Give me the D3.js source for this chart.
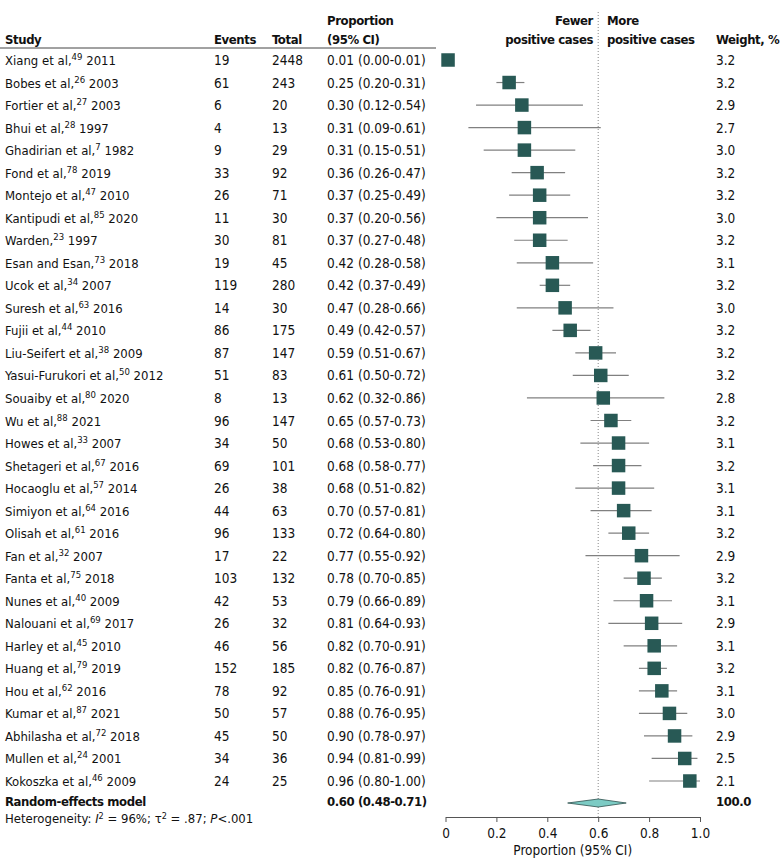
<!DOCTYPE html>
<html>
<head>
<meta charset="utf-8">
<script src="https://cdn.jsdelivr.net/npm/d3@7"></script>
<style>
  body { margin: 0; background: #fff; }
  svg text { font-family: "Liberation Sans Narrow", "DejaVu Sans Condensed", "Roboto", sans-serif; font-size: 13.5px; fill: #111; }
  .hdr { font-weight: bold; font-size: 13px; letter-spacing: -0.4px; }
  .lbl { font-size: 13px; }
</style>
</head>
<body>
<div id="chart"></div>
<script>
const authors = ["Xiang et al,", "Bobes et al,", "Fortier et al,", "Bhui et al,", "Ghadirian et al,", "Fond et al,",
  "Montejo et al,", "Kantipudi et al,", "Warden,", "Esan and Esan,", "Ucok et al,", "Suresh et al,", "Fujii et al,",
  "Liu-Seifert et al,", "Yasui-Furukori et al,", "Souaiby et al,", "Wu et al,", "Howes et al,", "Shetageri et al,",
  "Hocaoglu et al,", "Simiyon et al,", "Olisah et al,", "Fan et al,", "Fanta et al,", "Nunes et al,", "Nalouani et al,",
  "Harley et al,", "Huang et al,", "Hou et al,", "Kumar et al,", "Abhilasha et al,", "Mullen et al,", "Kokoszka et al,"];
const refs = ["49", "26", "27", "28", "7", "78", "47", "85", "23", "73", "34", "63", "44", "38", "50", "80", "88", "33",
  "67", "57", "64", "61", "32", "75", "40", "69", "45", "79", "62", "87", "72", "24", "46"];
const years = ["2011", "2003", "2003", "1997", "1982", "2019", "2010", "2020", "1997", "2018", "2007", "2016", "2010",
  "2009", "2012", "2020", "2021", "2007", "2016", "2014", "2016", "2016", "2007", "2018", "2009", "2017", "2010",
  "2019", "2016", "2021", "2018", "2001", "2009"];
const events = [19, 61, 6, 4, 9, 33, 26, 11, 30, 19, 119, 14, 86, 87, 51, 8, 96, 34, 69, 26, 44, 96, 17, 103, 42, 26,
  46, 152, 78, 50, 45, 34, 24];
const totals = [2448, 243, 20, 13, 29, 92, 71, 30, 81, 45, 280, 30, 175, 147, 83, 13, 147, 50, 101, 38, 63, 133, 22,
  132, 53, 32, 56, 185, 92, 57, 50, 36, 25];
const props = [0.01, 0.25, 0.30, 0.31, 0.31, 0.36, 0.37, 0.37, 0.37, 0.42, 0.42, 0.47, 0.49, 0.59, 0.61, 0.62, 0.65,
  0.68, 0.68, 0.68, 0.70, 0.72, 0.77, 0.78, 0.79, 0.81, 0.82, 0.82, 0.85, 0.88, 0.90, 0.94, 0.96];
const lower = [0.00, 0.20, 0.12, 0.09, 0.15, 0.26, 0.25, 0.20, 0.27, 0.28, 0.37, 0.28, 0.42, 0.51, 0.50, 0.32, 0.57,
  0.53, 0.58, 0.51, 0.57, 0.64, 0.55, 0.70, 0.66, 0.64, 0.70, 0.76, 0.76, 0.76, 0.78, 0.81, 0.80];
const upper = [0.01, 0.31, 0.54, 0.61, 0.51, 0.47, 0.49, 0.56, 0.48, 0.58, 0.49, 0.66, 0.57, 0.67, 0.72, 0.86, 0.73,
  0.80, 0.77, 0.82, 0.81, 0.80, 0.92, 0.85, 0.89, 0.93, 0.91, 0.87, 0.91, 0.95, 0.97, 0.99, 1.00];
const weights = ["3.2", "3.2", "2.9", "2.7", "3.0", "3.2", "3.2", "3.0", "3.2", "3.1", "3.2", "3.0", "3.2", "3.2",
  "3.2", "2.8", "3.2", "3.1", "3.2", "3.1", "3.1", "3.2", "2.9", "3.2", "3.1", "2.9", "3.1", "3.2", "3.1", "3.0",
  "2.9", "2.5", "2.1"];
const pooled = { est: 0.60, lo: 0.48, hi: 0.71 };
const xTicks = [0, 0.2, 0.4, 0.6, 0.8, 1.0];

const W = 780, H = 868;
const svg = d3.select("#chart").append("svg").attr("width", W).attr("height", H);

const x = d3.scaleLinear().domain([0, 1]).range([445.5, 700]);
const y = d3.scalePoint().domain(d3.range(authors.length)).range([60, 781]);
const pooledY = 803;
const axisY = 817;

const col = { study: 5, events: 214, total: 272, prop: 327, weight: 716 };
const fmt = d3.format(".2f");

// headers
const hdr = svg.append("g");
const addHdr = (xp, yp, txt, anchor) => hdr.append("text").attr("class", "hdr")
  .attr("x", xp).attr("y", yp).attr("text-anchor", anchor || "start").text(txt);
addHdr(col.study, 44, "Study");
addHdr(col.events, 44, "Events");
addHdr(col.total, 44, "Total");
addHdr(col.prop, 25, "Proportion");
addHdr(col.prop, 44, "(95% CI)");
addHdr(593, 25, "Fewer", "end");
addHdr(593, 44, "positive cases", "end");
addHdr(607, 25, "More");
addHdr(607, 44, "positive cases");
addHdr(col.weight, 44, "Weight, %");

svg.append("line").attr("x1", 0).attr("x2", 436).attr("y1", 48).attr("y2", 48)
  .attr("stroke", "#444").attr("stroke-width", 1);

// reference line at pooled estimate
svg.append("line").attr("x1", x(pooled.est)).attr("x2", x(pooled.est)).attr("y1", 12).attr("y2", axisY)
  .attr("stroke", "#888").attr("stroke-width", 1).attr("stroke-dasharray", "1,2");

// table rows
const rows = svg.append("g").selectAll("g").data(authors).join("g")
  .attr("transform", (d, i) => `translate(0,${y(i) + 5})`);

const st = rows.append("text").attr("class", "lbl").attr("x", col.study);
st.append("tspan").text(d => d);
st.append("tspan").attr("dy", -5).style("font-size", "9.5px").text((d, i) => refs[i]);
st.append("tspan").attr("dy", 5).text((d, i) => " " + years[i]);

rows.append("text").attr("x", col.events).text((d, i) => events[i]);
rows.append("text").attr("x", col.total).text((d, i) => totals[i]);
rows.append("text").attr("x", col.prop).text((d, i) => `${fmt(props[i])} (${fmt(lower[i])}-${fmt(upper[i])})`);
rows.append("text").attr("x", col.weight).text((d, i) => weights[i]);

// CI lines and squares
const marks = svg.append("g").selectAll("g").data(authors).join("g");
marks.append("line")
  .attr("x1", (d, i) => x(lower[i])).attr("x2", (d, i) => x(upper[i]))
  .attr("y1", (d, i) => y(i)).attr("y2", (d, i) => y(i))
  .attr("stroke", "#808080").attr("stroke-width", 1.2);
const sq = 13.5;
marks.append("rect")
  .attr("x", (d, i) => x(props[i]) - sq / 2).attr("y", (d, i) => y(i) - sq / 2)
  .attr("width", sq).attr("height", sq)
  .attr("fill", "#285955");

// pooled row
svg.append("text").attr("class", "hdr").attr("x", col.study).attr("y", pooledY + 3).text("Random-effects model");
svg.append("text").attr("class", "hdr").attr("x", col.prop).attr("y", pooledY + 3)
  .text(`${fmt(pooled.est)} (${fmt(pooled.lo)}-${fmt(pooled.hi)})`);
svg.append("text").attr("class", "hdr").attr("x", col.weight).attr("y", pooledY + 3).text("100.0");
svg.append("path")
  .attr("d", `M${x(pooled.lo)},${pooledY} L${x(pooled.est)},${pooledY - 4} L${x(pooled.hi)},${pooledY} L${x(pooled.est)},${pooledY + 4} Z`)
  .attr("fill", "#7ccbc4").attr("stroke", "#2d4f4c").attr("stroke-width", 0.8);

const het = svg.append("text").attr("class", "lbl").attr("x", col.study).attr("y", pooledY + 20);
het.append("tspan").text("Heterogeneity: ");
het.append("tspan").style("font-style", "italic").text("I");
het.append("tspan").attr("dy", -4).style("font-size", "9px").text("2");
het.append("tspan").attr("dy", 4).text(" = 96%; τ");
het.append("tspan").attr("dy", -4).style("font-size", "9px").text("2");
het.append("tspan").attr("dy", 4).text(" = .87; ");
het.append("tspan").style("font-style", "italic").text("P");
het.append("tspan").text("<.001");

// axis
const ax = svg.append("g").attr("transform", `translate(0,${axisY})`)
  .call(d3.axisBottom(x).tickValues(xTicks).tickSize(5).tickSizeOuter(0)
    .tickFormat(d => d === 0 ? "0" : d3.format(".1f")(d)));
ax.select(".domain").attr("stroke", "#555");
ax.selectAll(".tick line").attr("stroke", "#555");
ax.selectAll(".tick text").attr("dy", null).attr("y", 21)
  .style("font-size", "13.5px").style("font-family", null).attr("fill", "#111");
svg.append("text").attr("x", (x(0) + x(1)) / 2).attr("y", 855).attr("text-anchor", "middle")
  .text("Proportion (95% CI)");
</script>
</body>
</html>
